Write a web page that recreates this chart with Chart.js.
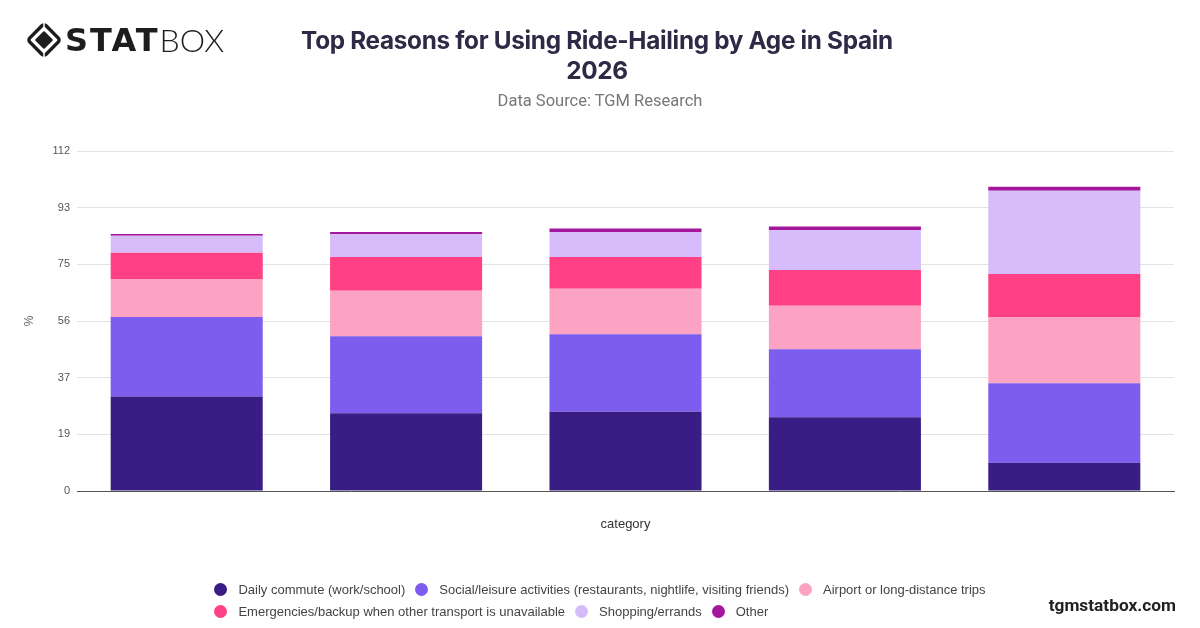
<!DOCTYPE html>
<html>
<head>
<meta charset="utf-8">
<script src="https://cdn.jsdelivr.net/npm/chart.js@4.4.1/dist/chart.umd.min.js"></script>
<style>
  html,body{margin:0;padding:0;background:#fff;}
  body{width:1200px;height:628px;position:relative;overflow:hidden;font-family:"Liberation Sans",Arial,sans-serif;}
  #chart{position:absolute;left:0;top:0;width:1200px;height:628px;}
  #logo{position:absolute;left:26px;top:22px;display:flex;align-items:center;}
  #logo .stat{font-family:"DejaVu Sans",sans-serif;font-weight:700;font-size:32px;color:#1d1d1d;margin-left:3px;line-height:36px;letter-spacing:2px;}
  #logo .box{font-family:Lato,"Open Sans",sans-serif;font-weight:300;font-size:32px;color:#1d1d1d;line-height:36px;margin-left:0px;}
  #title{position:absolute;left:0;width:1200px;top:25px;text-align:center;font-family:Inter,Roboto,sans-serif;font-weight:700;font-size:24.3px;line-height:30px;color:#2d2a46;letter-spacing:-0.3px;}
  #title .inner{display:inline-block;margin-left:-6px;}
  #sub{position:absolute;left:0;width:1200px;top:91px;text-align:center;font-family:Roboto,Inter,sans-serif;font-size:16.5px;line-height:20px;color:#777;}
  #legendWrap{position:absolute;left:0;width:1200px;top:578px;text-align:center;}
  #legend{display:inline-block;text-align:left;}
  .lrow{height:22px;display:flex;align-items:center;white-space:nowrap;}
  .litem{display:flex;align-items:center;margin-right:10px;font-size:13px;color:#444;}
  .litem:last-child{margin-right:0;}
  .ldot{width:13px;height:13px;border-radius:50%;margin-right:11px;display:inline-block;}
  #footer{position:absolute;right:24px;top:595px;font-family:Roboto,"Liberation Sans",sans-serif;font-weight:700;font-size:17.3px;color:#222;}
</style>
</head>
<body>
<canvas id="chart" width="1200" height="628"></canvas>
<div id="logo">
  <svg width="36" height="36" viewBox="0 0 36 36">
    <g transform="translate(18,18) rotate(45)">
      <rect x="-11.5" y="-11.5" width="23" height="23" rx="3" fill="none" stroke="#1d1d1d" stroke-width="3.5"/>
      <rect x="-6.5" y="-6.5" width="13" height="13" rx="1" fill="#1d1d1d"/>
    </g>
    <line x1="18" y1="0" x2="18" y2="5" stroke="#fff" stroke-width="1.5"/>
    <line x1="18" y1="31" x2="18" y2="36" stroke="#fff" stroke-width="1.5"/>
  </svg>
  <span class="stat">STAT</span><span class="box">BOX</span>
</div>
<div id="title"><span class="inner">Top Reasons for Using Ride-Hailing by Age in Spain<br>2026</span></div>
<div id="sub">Data Source: TGM Research</div>
<div id="legendWrap"><div id="legend"></div></div>
<div id="footer">tgmstatbox.com</div>
<script>
const categories = ['18-24', '25-34', '35-44', '45-54', '55+'];
const seriesNames = [
  'Daily commute (work/school)',
  'Social/leisure activities (restaurants, nightlife, visiting friends)',
  'Airport or long-distance trips',
  'Emergencies/backup when other transport is unavailable',
  'Shopping/errands',
  'Other'
];
const dailyCommute = [31.1, 25.6, 26.1, 24.3, 9.3];
const socialLeisure = [26.2, 25.4, 25.5, 22.4, 26.2];
const airportTrips = [12.4, 15.0, 15.0, 14.3, 21.8];
const emergencies = [8.8, 11.1, 10.5, 11.8, 14.2];
const shopping = [5.6, 7.5, 8.1, 13.1, 27.4];
const other = [0.6, 0.7, 1.3, 1.2, 1.3];
const colors = ['#391d84', '#7c5ded', '#fca3c3', '#ff4084', '#d6bcfb', '#a3179d'];
const yMax = 112;
const yTickCount = 7;

const seriesValues = [dailyCommute, socialLeisure, airportTrips, emergencies, shopping, other];

Chart.defaults.font.family = '"Liberation Sans", Arial, sans-serif';

const chart = new Chart(document.getElementById('chart'), {
  type: 'bar',
  data: {
    labels: categories,
    datasets: seriesNames.map((name, i) => ({
      label: name,
      data: seriesValues[i],
      backgroundColor: colors[i],
      borderWidth: 0,
      categoryPercentage: 1,
      barPercentage: 0.693
    }))
  },
  options: {
    responsive: false,
    animation: false,
    devicePixelRatio: 1,
    layout: { padding: { top: 151, left: 18, right: 26, bottom: 92 } },
    plugins: {
      legend: { display: false },
      tooltip: { enabled: false },
      title: { display: false }
    },
    scales: {
      x: {
        stacked: true,
        grid: { display: false },
        border: { display: true, color: '#555', width: 1 },
        ticks: { display: false },
        title: { display: true, text: 'category', color: '#333', font: { size: 13 } },
        afterFit: (s) => { s.height = 45; }
      },
      y: {
        stacked: true,
        min: 0,
        max: yMax,
        grid: { color: '#e3e3e3', drawTicks: false },
        border: { display: false },
        ticks: {
          count: yTickCount,
          padding: 7,
          color: '#555',
          font: { size: 11 },
          callback: (v) => Math.round(v)
        },
        title: { display: true, text: '%', color: '#666', font: { size: 12 } },
        afterFit: (s) => { s.width = 59; }
      }
    }
  }
});

// HTML legend from chart datasets
const legendEl = document.getElementById('legend');
const rows = [[0, 1, 2], [3, 4, 5]];
rows.forEach(r => {
  const row = document.createElement('div');
  row.className = 'lrow';
  r.forEach(i => {
    const ds = chart.data.datasets[i];
    const it = document.createElement('span');
    it.className = 'litem';
    const dot = document.createElement('span');
    dot.className = 'ldot';
    dot.style.background = ds.backgroundColor;
    it.appendChild(dot);
    it.appendChild(document.createTextNode(ds.label));
    row.appendChild(it);
  });
  legendEl.appendChild(row);
});
</script>
</body>
</html>
